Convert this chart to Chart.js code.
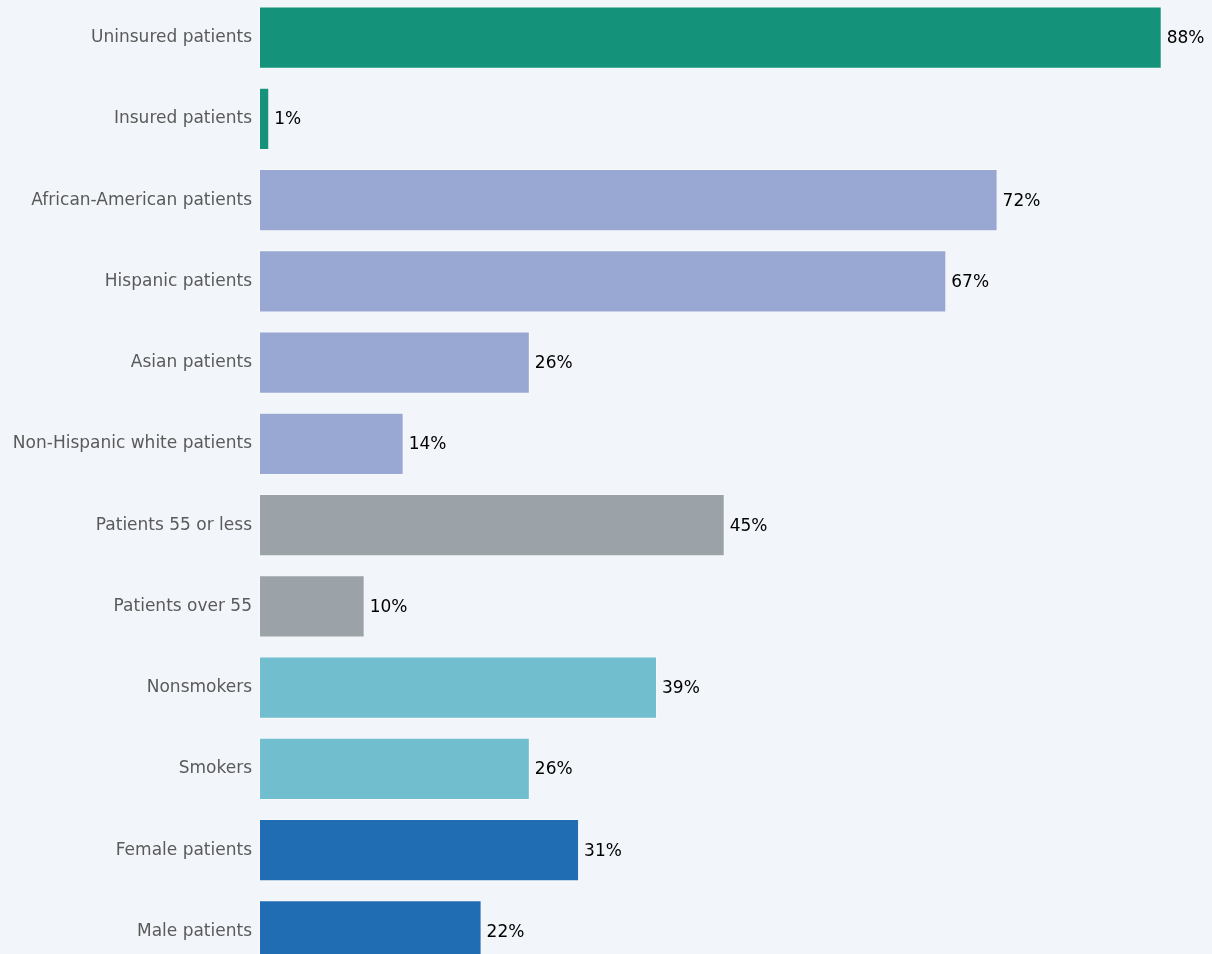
<!DOCTYPE html>
<html>
<head>
<meta charset="utf-8">
<script src="https://cdn.jsdelivr.net/npm/chart.js@4"></script>
<style>
    html, body {
        margin: 0;
        padding: 0;
        background: #f2f5f9;
        overflow: hidden;
        width: 1212px;
        height: 954px;
    }
    #chart {
        position: absolute;
        left: 0;
        top: -4px;
    }
</style>
</head>
<body>
<canvas id="chart" width="1212" height="976"></canvas>
<script>
// Categories (top to bottom)
const categories = [
    'Uninsured patients',
    'Insured patients',
    'African-American patients',
    'Hispanic patients',
    'Asian patients',
    'Non-Hispanic white patients',
    'Patients 55 or less',
    'Patients over 55',
    'Nonsmokers',
    'Smokers',
    'Female patients',
    'Male patients'
];

// Share of patients (%)
const values = [88, 1, 72, 67, 26.4, 14.1, 45.4, 10.3, 38.8, 26.4, 31.2, 21.7];

// Group colours
const barColors = [
    '#15927a', '#15927a',
    '#99a7d3', '#99a7d3', '#99a7d3', '#99a7d3',
    '#9ba3a8', '#9ba3a8',
    '#71bece', '#71bece',
    '#216db3', '#216db3'
];

const FONT = 'DejaVu Sans, Verdana, sans-serif';

// Draw the value labels just past the bar ends
const valueLabels = {
    id: 'valueLabels',
    afterDatasetsDraw(chart) {
        const ctx = chart.ctx;
        const meta = chart.getDatasetMeta(0);
        ctx.save();
        ctx.font = '17px ' + FONT;
        ctx.fillStyle = '#000';
        ctx.textAlign = 'left';
        ctx.textBaseline = 'middle';
        meta.data.forEach((bar, i) => {
            ctx.fillText(Math.round(values[i]) + '%', bar.x + 5, bar.y + 1);
        });
        ctx.restore();
    }
};

new Chart(document.getElementById('chart'), {
    type: 'bar',
    data: {
        labels: categories,
        datasets: [{
            data: values,
            backgroundColor: barColors,
            borderColor: 'rgba(255,255,255,0.45)',
            borderWidth: 1,
            borderSkipped: false,
            barPercentage: 0.765,
            categoryPercentage: 1
        }]
    },
    options: {
        indexAxis: 'y',
        responsive: false,
        animation: false,
        layout: { padding: { left: 0, right: 0, top: 1, bottom: 0 } },
        plugins: {
            legend: { display: false },
            tooltip: { enabled: false }
        },
        scales: {
            x: {
                min: 0,
                max: 92.9,
                display: false
            },
            y: {
                grid: { display: false, drawTicks: false },
                border: { display: false },
                ticks: {
                    color: '#5a5a5a',
                    padding: 7,
                    font: { family: FONT, size: 17 }
                },
                afterFit(scale) {
                    scale.width = 259;
                    // bars fill the full height, no room kept for label overhang
                    scale.paddingTop = 0;
                    scale.paddingBottom = 0;
                }
            }
        }
    },
    plugins: [valueLabels]
});
</script>
</body>
</html>
